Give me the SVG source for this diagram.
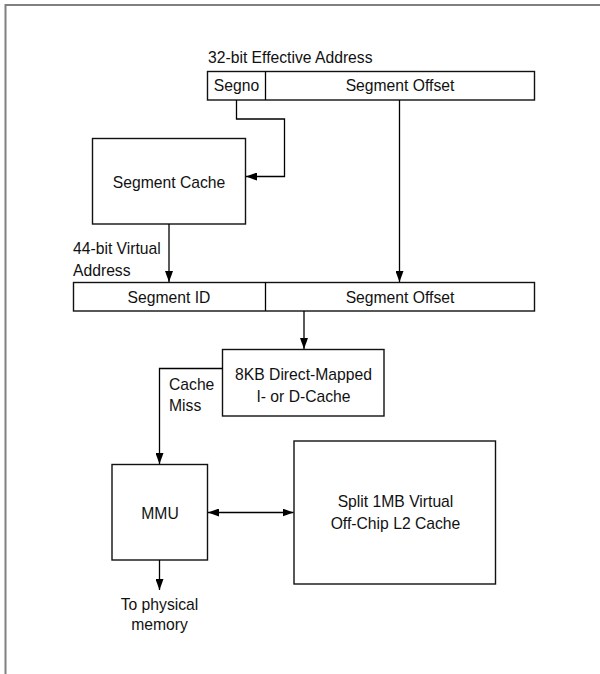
<svg xmlns="http://www.w3.org/2000/svg" width="600" height="674" viewBox="0 0 600 674">
<style>
  text { font-family: "Liberation Sans", Arial, sans-serif; font-size: 15.7px; fill: #111; }
  .c { text-anchor: middle; }
  .box { fill: #fff; stroke: #111; stroke-width: 1.4; }
  .ln { fill: none; stroke: #000; stroke-width: 1.3; }
  .frame { fill: none; stroke: #808080; stroke-width: 2; }
</style>
<defs>
  <marker id="ah" viewBox="0 0 11 8" refX="11" refY="4" markerWidth="11" markerHeight="8" markerUnits="userSpaceOnUse" orient="auto-start-reverse">
    <path d="M0,0 L11,4 L0,8 z" fill="#000"/>
  </marker>
</defs>
<rect width="600" height="674" fill="#fff"/>
<path class="frame" d="M5.5,674 V5 H600"/>

<g id="effective-address">
  <text x="208" y="63">32-bit Effective Address</text>
  <rect class="box" x="207.5" y="71.5" width="327" height="28.5"/>
  <line class="ln" x1="265.5" y1="71.5" x2="265.5" y2="100"/>
  <text class="c" x="236.5" y="91">Segno</text>
  <text class="c" x="400" y="91">Segment Offset</text>
</g>

<g id="segment-cache">
  <rect class="box" x="92.5" y="138.5" width="153" height="85.5"/>
  <text class="c" x="169" y="188">Segment Cache</text>
</g>

<g id="virtual-address">
  <text x="73" y="254">44-bit Virtual</text>
  <text x="73" y="276">Address</text>
  <rect class="box" x="73.5" y="282.5" width="461" height="28.5"/>
  <line class="ln" x1="265.5" y1="282.5" x2="265.5" y2="311"/>
  <text class="c" x="169" y="303">Segment ID</text>
  <text class="c" x="400" y="303">Segment Offset</text>
</g>

<g id="l1-cache">
  <rect class="box" x="222.5" y="349.5" width="161.5" height="66.5"/>
  <text class="c" x="303.5" y="379.5">8KB Direct-Mapped</text>
  <text class="c" x="303.5" y="401.5">I- or D-Cache</text>
</g>

<g id="cache-miss-label">
  <text x="169" y="389.5">Cache</text>
  <text x="169" y="410.5">Miss</text>
</g>

<g id="mmu">
  <rect class="box" x="112" y="464.5" width="95.5" height="95.5"/>
  <text class="c" x="160" y="518.5">MMU</text>
</g>

<g id="l2-cache">
  <rect class="box" x="294" y="441" width="201.5" height="143"/>
  <text class="c" x="395.5" y="507">Split 1MB Virtual</text>
  <text class="c" x="395.5" y="528.5">Off-Chip L2 Cache</text>
</g>

<g id="physical-memory-label">
  <text class="c" x="159.5" y="609.5">To physical</text>
  <text class="c" x="159.5" y="630">memory</text>
</g>

<g id="connectors">
  <path class="ln" d="M236.5,100 V119 H284.5 V176.5 H246" marker-end="url(#ah)"/>
  <path class="ln" d="M399.5,100 V282" marker-end="url(#ah)"/>
  <path class="ln" d="M169,224 V282" marker-end="url(#ah)"/>
  <path class="ln" d="M304,311 V349" marker-end="url(#ah)"/>
  <path class="ln" d="M222.5,368.5 H159.5 V464" marker-end="url(#ah)"/>
  <path class="ln" d="M208,512.5 H293.5" marker-start="url(#ah)" marker-end="url(#ah)"/>
  <path class="ln" d="M159.5,560 V590" marker-end="url(#ah)"/>
</g>
</svg>
